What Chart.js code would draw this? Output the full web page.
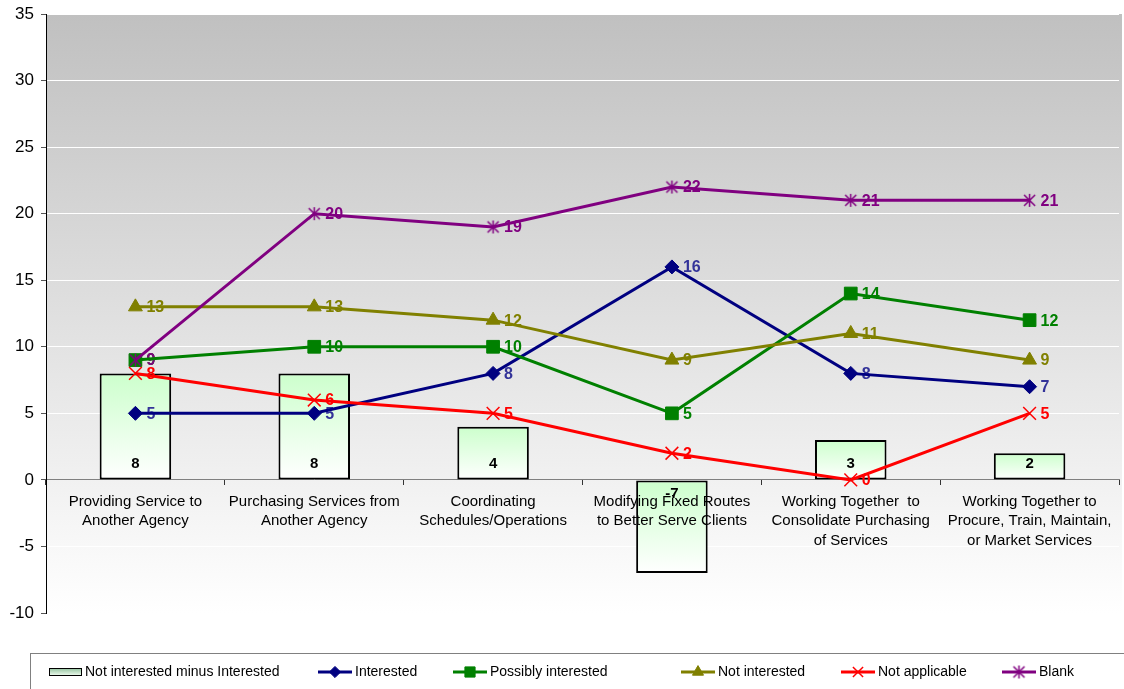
<!DOCTYPE html>
<html>
<head>
<meta charset="utf-8">
<script src="https://cdn.jsdelivr.net/npm/chart.js@4/dist/chart.umd.min.js"></script>
<style>
  html, body { margin: 0; padding: 0; background: #ffffff; }
  #wrap { width: 1124px; height: 689px; }
</style>
</head>
<body>
<div id="wrap"><canvas id="chart" width="1124" height="689"></canvas></div>
<script>
// Categories of coordination activity (multi-line axis labels)
const categories = [
  ["Providing Service to", "Another Agency"],
  ["Purchasing Services from", "Another Agency"],
  ["Coordinating", "Schedules/Operations"],
  ["Modifying Fixed Routes", "to Better Serve Clients"],
  ["Working Together  to", "Consolidate Purchasing", "of Services"],
  ["Working Together to", "Procure, Train, Maintain,", "or Market Services"]
];

// Response counts per category
const interested = [5, 5, 8, 16, 8, 7];
const possiblyInterested = [9, 10, 10, 5, 14, 12];
const notInterested = [13, 13, 12, 9, 11, 9];
const notApplicable = [8, 6, 5, 2, 0, 5];
const blank = [9, 20, 19, 22, 21, 21];
const notInterestedMinusInterested = [8, 8, 4, -7, 3, 2];

// Value axis range
const yMin = -10;
const yMax = 35;
const yStep = 5;

const FONT = "'Liberation Sans', Arial, Helvetica, sans-serif";

// Six-armed asterisk marker used for the "Blank" series
function asteriskMarker(color, size, lw) {
  const c = document.createElement('canvas');
  c.width = size; c.height = size;
  const g = c.getContext('2d');
  const m = size / 2, r = size / 2 - 1, d = r * 0.85;
  g.strokeStyle = color;
  g.lineWidth = lw;
  g.beginPath();
  g.moveTo(m, m - r); g.lineTo(m, m + r);
  g.moveTo(m - d, m - d); g.lineTo(m + d, m + d);
  g.moveTo(m + d, m - d); g.lineTo(m - d, m + d);
  g.stroke();
  return c;
}

const lineSeries = [
  { label: "Interested", data: interested, color: "#000080", labelColor: "#333399",
    pointStyle: "rectRot", radius: 7, pointBorderWidth: 1 },
  { label: "Possibly interested", data: possiblyInterested, color: "#008000", labelColor: "#008000",
    pointStyle: "rect", radius: 9, pointBorderWidth: 1 },
  { label: "Not interested", data: notInterested, color: "#808000", labelColor: "#808000",
    pointStyle: "triangle", radius: 8, pointBorderWidth: 1 },
  { label: "Not applicable", data: notApplicable, color: "#FF0000", labelColor: "#FF0000",
    pointStyle: "crossRot", radius: 9, pointBorderWidth: 1.5 },
  { label: "Blank", data: blank, color: "#800080", labelColor: "#800080",
    pointStyle: asteriskMarker("#800080", 15, 1.5), radius: 7, pointBorderWidth: 1.5 }
];

// Per-bar vertical gradient: light green at the top edge fading to white
function barGradient(ctx) {
  const chart = ctx.chart;
  const y = chart.scales && chart.scales.y;
  if (!y || ctx.type !== 'data') return '#ccffcc';
  const v = notInterestedMinusInterested[ctx.dataIndex];
  const top = y.getPixelForValue(Math.max(v, 0));
  const bottom = y.getPixelForValue(Math.min(v, 0));
  if (!isFinite(top) || !isFinite(bottom) || top === bottom) return '#ccffcc';
  const g = chart.ctx.createLinearGradient(0, top, 0, bottom);
  g.addColorStop(0, '#ccffcc');
  g.addColorStop(1, '#ffffff');
  return g;
}

// Grey-to-white wash behind the plot area
const plotBackground = {
  id: 'plotBackground',
  beforeDraw(chart) {
    const { ctx, chartArea: a } = chart;
    const g = ctx.createLinearGradient(0, a.top, 0, a.bottom);
    g.addColorStop(0, '#c0c0c0');
    g.addColorStop(1, '#ffffff');
    ctx.save();
    ctx.fillStyle = g;
    ctx.fillRect(a.left, a.top, a.right - a.left + 3, a.bottom - a.top);
    ctx.restore();
  }
};

// Value labels: bar values near the zero line, series values right of each marker
const valueLabels = {
  id: 'valueLabels',
  afterDatasetDraw(chart, args) {
    if (args.index !== 0) return;
    const ctx = chart.ctx;
    const y = chart.scales.y;
    const zero = y.getPixelForValue(0);
    ctx.save();
    ctx.textBaseline = 'middle';
    ctx.textAlign = 'center';
    ctx.font = 'bold 15px ' + FONT;
    ctx.fillStyle = '#000000';
    chart.getDatasetMeta(0).data.forEach((el, i) => {
      const v = notInterestedMinusInterested[i];
      ctx.fillText(String(v), el.x, v >= 0 ? zero - 16 : zero + 14);
    });
    ctx.textAlign = 'left';
    ctx.font = 'bold 16px ' + FONT;
    lineSeries.forEach((s, k) => {
      ctx.fillStyle = s.labelColor;
      chart.getDatasetMeta(k + 1).data.forEach((pt, i) => {
        ctx.fillText(String(s.data[i]), pt.x + 11, pt.y + 1);
      });
    });
    ctx.restore();
  }
};

// Boxed legend along the bottom edge
const boxedLegend = {
  id: 'boxedLegend',
  afterDraw(chart) {
    const ctx = chart.ctx;
    const cy = 672;
    ctx.save();
    ctx.strokeStyle = '#808080';
    ctx.lineWidth = 1;
    ctx.strokeRect(30.5, 653.5, 1200, 100);

    ctx.font = '14px ' + FONT;
    ctx.textBaseline = 'middle';
    ctx.textAlign = 'left';

    // bar swatch
    const sg = ctx.createLinearGradient(0, 668, 0, 676);
    sg.addColorStop(0, '#8fbf9a');
    sg.addColorStop(1, '#f4fff4');
    ctx.fillStyle = sg;
    ctx.fillRect(49, 668, 33, 8);
    ctx.strokeStyle = '#000000';
    ctx.lineWidth = 1;
    ctx.strokeRect(49.5, 668.5, 32, 7);
    ctx.fillStyle = '#000000';
    ctx.fillText('Not interested minus Interested', 85, cy);

    const xs = [318, 453, 681, 841, 1002];
    lineSeries.forEach((s, k) => {
      const x0 = xs[k];
      ctx.strokeStyle = s.color;
      ctx.lineWidth = 3;
      ctx.beginPath();
      ctx.moveTo(x0, cy); ctx.lineTo(x0 + 34, cy);
      ctx.stroke();
      ctx.fillStyle = s.color;
      ctx.lineWidth = s.pointBorderWidth;
      Chart.helpers.drawPoint(ctx, {
        pointStyle: s.pointStyle, radius: s.radius * 0.8, rotation: 0,
        borderWidth: s.pointBorderWidth
      }, x0 + 17, cy);
      ctx.fillStyle = '#000000';
      ctx.fillText(s.label, x0 + 37, cy);
    });
    ctx.restore();
  }
};

const datasets = [
  {
    type: 'bar',
    label: 'Not interested minus Interested',
    data: notInterestedMinusInterested,
    backgroundColor: barGradient,
    borderColor: '#000000',
    borderWidth: 2,
    borderSkipped: false,
    barPercentage: 0.4,
    categoryPercentage: 1.0,
    order: 10
  }
].concat(lineSeries.map((s, k) => ({
  type: 'line',
  label: s.label,
  data: s.data,
  borderColor: s.color,
  borderWidth: 3,
  backgroundColor: s.color,
  pointStyle: s.pointStyle,
  pointRadius: s.radius,
  pointBorderWidth: s.pointBorderWidth,
  pointBorderColor: s.color,
  pointBackgroundColor: s.color,
  tension: 0,
  fill: false,
  clip: false,
  order: 5 - k
})));

// Axis label overhang is allowed to spill past the plot edges
function noOverhang(scale) {
  scale.paddingLeft = 0; scale.paddingRight = 0;
  scale.paddingTop = 0; scale.paddingBottom = 0;
}

new Chart(document.getElementById('chart'), {
  data: { labels: categories, datasets },
  options: {
    responsive: false,
    animation: false,
    events: [],
    layout: { autoPadding: false, padding: { top: 14, right: 5, bottom: 76, left: 0 } },
    plugins: { legend: { display: false }, tooltip: { enabled: false } },
    scales: {
      x: {
        type: 'category',
        position: { y: 0 },
        offset: true,
        afterFit: noOverhang,
        grid: {
          offset: true, drawOnChartArea: false, drawTicks: true,
          tickLength: 5, tickColor: '#333333'
        },
        border: { display: true, color: '#808080', width: 1 },
        ticks: {
          z: 1,
          autoSkip: false, maxRotation: 0, minRotation: 0,
          padding: 7,
          color: '#000000',
          font: { family: FONT, size: 15, lineHeight: 1.3 }
        }
      },
      y: {
        type: 'linear',
        min: yMin, max: yMax,
        afterFit(scale) { scale.width = 46; noOverhang(scale); },
        grid: {
          color: '#ffffff', lineWidth: 1,
          drawTicks: true, tickLength: 5, tickColor: '#555555'
        },
        border: { display: true, color: '#000000', width: 1 },
        ticks: {
          stepSize: yStep,
          padding: 7,
          color: '#000000',
          font: { family: FONT, size: 17 }
        }
      }
    }
  },
  plugins: [plotBackground, valueLabels, boxedLegend]
});
</script>
</body>
</html>
